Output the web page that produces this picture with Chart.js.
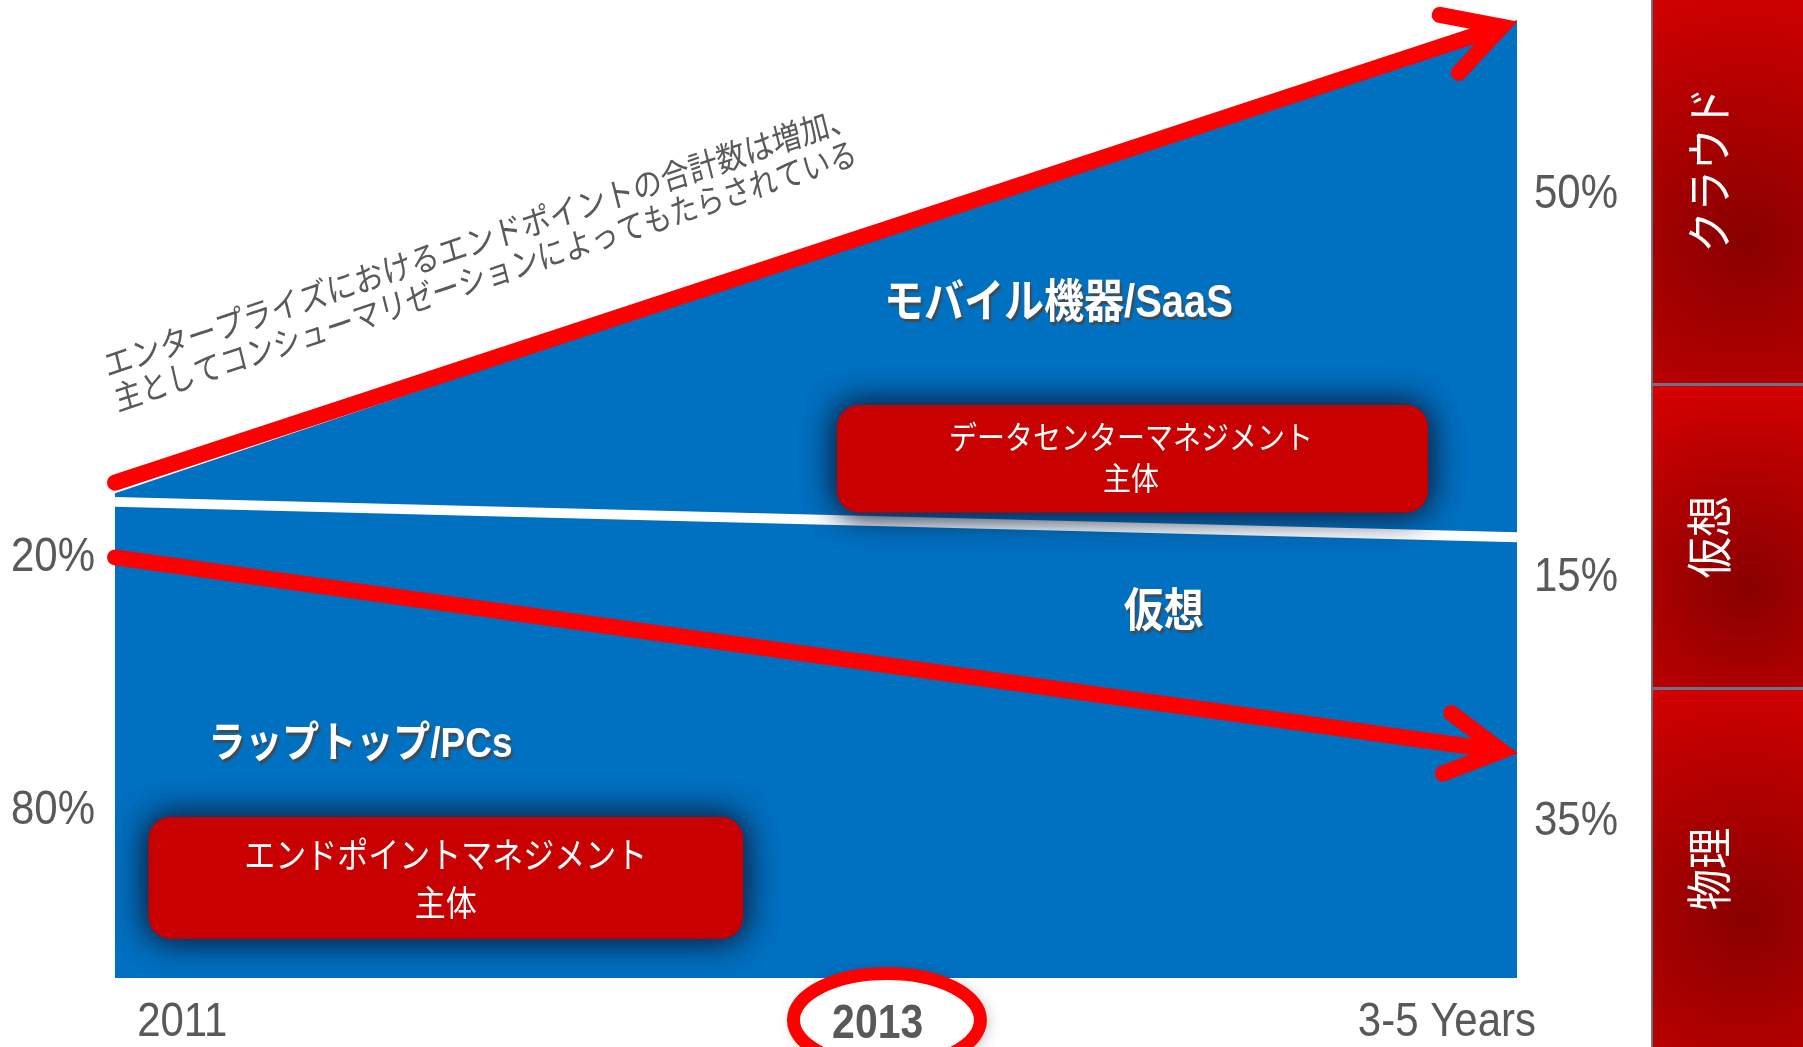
<!DOCTYPE html>
<html><head><meta charset="utf-8">
<script src="https://cdn.jsdelivr.net/npm/chart.js@4"></script>
<style>html,body{margin:0;padding:0;background:#fff;overflow:hidden}#wrap{position:relative;width:1803px;height:1047px}</style>
</head><body><div id="wrap"><canvas id="c"></canvas></div>
<script>
// ---- data (conceptual index, 0 = baseline, 100 = top) ----
const periods = ['2011', '2013', '3-5 Years'];
const xSpan = [0, 1];                 // 2011 -> 3-5 Years
const trendX = [0, 0.989];
const totalEndpoints = [50.6, 100];   // top of the blue area
const cloudBoundary = [49.7, 46.0];   // white divider (cloud above)
const growthTrend = [51.7, 99.3];     // upper red arrow
const physicalTrend = [43.9, 23.7];   // lower red arrow
const startShares = ['20%', '80%'];
const endShares = ['50%', '15%', '35%'];
const segments = ['クラウド', '仮想', '物理'];
const regionLabels = ['モバイル機器/SaaS', '仮想', 'ラップトップ/PCs'];
const focusLabels = [['データセンターマネジメント', '主体'], ['エンドポイントマネジメント', '主体']];
const noteLines = ['エンタープライズにおけるエンドポイントの合計数は増加、', '主としてコンシューマリゼーションによってもたらされている'];

const FONT = '"Liberation Sans", "Noto Sans CJK JP", sans-serif';
const GRAY = '#595959';
const SY = 1.15; // vertical stretch of the original slide

function text(ctx, s, x, y, o) {
  ctx.save();
  ctx.translate(x, y);
  if (o.vert) { ctx.rotate(-Math.PI / 2); ctx.scale(o.sx || 0.9, 1); }
  else {
    ctx.scale(o.sx || 1, SY);
    if (o.rot) ctx.rotate(o.rot);
    if (o.bx) ctx.scale(o.bx, 1);
  }
  ctx.font = (o.weight || 'normal') + ' ' + o.size + 'px ' + FONT;
  ctx.fillStyle = o.color || GRAY;
  ctx.textAlign = o.align || 'center';
  ctx.textBaseline = o.base || 'middle';
  if (o.shadow) {
    ctx.shadowColor = 'rgba(70,70,70,0.85)';
    ctx.shadowOffsetX = 2; ctx.shadowOffsetY = 3; ctx.shadowBlur = 1;
  }
  ctx.fillText(s, 0, 0);
  ctx.restore();
}

function head(ctx, p0, p1, len, ang, w, color) {
  const a = Math.atan2(p1.y - p0.y, p1.x - p0.x);
  ctx.save();
  ctx.beginPath();
  ctx.moveTo(p1.x - len * Math.cos(a - ang), p1.y - len * Math.sin(a - ang));
  ctx.lineTo(p1.x, p1.y);
  ctx.lineTo(p1.x - len * Math.cos(a + ang), p1.y - len * Math.sin(a + ang));
  ctx.strokeStyle = color; ctx.lineWidth = w; ctx.lineCap = 'round'; ctx.lineJoin = 'miter'; ctx.miterLimit = 10;
  ctx.stroke();
  ctx.restore();
}

function box(ctx, x0, y0, x1, y1, r) {
  ctx.save();
  ctx.shadowColor = 'rgba(15,35,70,0.9)';
  ctx.shadowBlur = 32;
  ctx.fillStyle = '#C80000';
  for (let k = 0; k < 2; k++) {
    ctx.beginPath(); ctx.roundRect(x0, y0, x1 - x0, y1 - y0, r); ctx.fill();
  }
  ctx.restore();
}

const decor = {
  id: 'decor',
  afterDatasetsDraw(chart) {
    const { ctx, scales: { x: X, y: Y } } = chart;
    const px = f => X.getPixelForValue(f), py = v => Y.getPixelForValue(v);
    // arrowheads
    [2, 3].forEach(i => {
      const pts = chart.getDatasetMeta(i).data;
      head(ctx, pts[0], pts[pts.length - 1], 63, 29 * Math.PI / 180, 16, '#FF0000');
    });
    // focus boxes
    box(ctx, px(0.515), py(59.8), px(0.9365), py(48.6), 22);
    text(ctx, focusLabels[0][0], px(0.7247), py(56.1), { size: 28, color: '#fff' });
    text(ctx, focusLabels[0][1], px(0.7247), py(51.9), { size: 28, color: '#fff' });
    box(ctx, px(0.024), py(16.8), px(0.448), py(4.1), 22);
    text(ctx, focusLabels[1][0], px(0.236), py(12.5), { size: 31, color: '#fff' });
    text(ctx, focusLabels[1][1], px(0.236), py(7.5), { size: 31, color: '#fff' });
    // region labels
    text(ctx, regionLabels[0], px(0.673), py(70.3), { size: 40, weight: 'bold', color: '#fff', shadow: true });
    text(ctx, regionLabels[1], px(0.748), py(38.1), { size: 40, weight: 'bold', color: '#fff', shadow: true });
    text(ctx, regionLabels[2], px(0.175), py(24.3), { size: 37, weight: 'bold', color: '#fff', shadow: true });
    // note along the growth arrow
    const rot = -16.2 * Math.PI / 180;
    text(ctx, noteLines[0], px(0.261), py(76.7), { size: 29, rot });
    text(ctx, noteLines[1], px(0.2646), py(73.0), { size: 29, rot, bx: 0.95 });
  },
  afterDraw(chart) {
    const { ctx, chartArea: a, scales: { x: X, y: Y } } = chart;
    const px = f => X.getPixelForValue(f), py = v => Y.getPixelForValue(v);
    // share labels
    [43.9, 17.5].forEach((v, i) => text(ctx, startShares[i], a.left - 62, py(v), { size: 42 }));
    [81.8, 41.8, 16.3].forEach((v, i) => text(ctx, endShares[i], a.right + 59, py(v), { size: 42 }));
    // period labels
    const base = a.bottom + 58;
    text(ctx, periods[0], px(0.048), base, { size: 42, base: 'alphabetic' });
    text(ctx, periods[2], px(0.95), base, { size: 42, base: 'alphabetic' });
    // highlight ellipse for 2013
    ctx.save();
    ctx.beginPath();
    ctx.ellipse(px(0.5506), a.bottom + 42, 93.5, 46.5, 0, 0, Math.PI * 2);
    ctx.shadowColor = 'rgba(0,0,0,0.5)'; ctx.shadowBlur = 16; ctx.shadowOffsetX = 3; ctx.shadowOffsetY = 2;
    ctx.fillStyle = '#fff'; ctx.fill();
    ctx.shadowColor = 'rgba(0,0,0,0)';
    ctx.strokeStyle = '#FF0000'; ctx.lineWidth = 13; ctx.stroke();
    ctx.restore();
    text(ctx, periods[1], px(0.544), base + 2, { size: 41, weight: 'bold', base: 'alphabetic' });
    // right-hand segment bar
    const bx = a.right + 136, bw = chart.width - bx, H = chart.height;
    ctx.save();
    ctx.fillStyle = '#6f7088';
    ctx.fillRect(bx - 2, 0, bw + 2, H);
    ctx.restore();
    const segs = [[0, 383], [386, 687], [690, H]];
    const tY = [170, 537, 869];
    segs.forEach(([y0, y1], i) => {
      ctx.save();
      const cx = bx + bw * 0.62, cy = (y0 + y1) / 2 + 50;
      const g = ctx.createRadialGradient(cx, cy, 5, cx, cy, (y1 - y0) * 0.7);
      g.addColorStop(0, '#8A0000');
      g.addColorStop(1, '#D40000');
      ctx.fillStyle = g;
      ctx.fillRect(bx, y0, bw, y1 - y0);
      ctx.restore();
      text(ctx, segments[i], bx + 60, tY[i], { size: 46, color: '#fff', vert: true, sx: 0.9 });
    });
  }
};

const ds = (vals, xs, extra) => Object.assign({
  data: vals.map((v, i) => ({ x: xs[i], y: v })), pointRadius: 0, tension: 0
}, extra);

new Chart(document.getElementById('c'), {
  type: 'line',
  data: {
    datasets: [
      ds(totalEndpoints, xSpan, { label: 'エンドポイント合計', order: 10, fill: 'origin', backgroundColor: '#0070C0', borderColor: 'rgba(0,0,0,0)', borderWidth: 0 }),
      ds(cloudBoundary, xSpan, { label: 'クラウド境界', order: 3, fill: false, borderColor: '#FFFFFF', borderWidth: 10, clip: false }),
      ds(growthTrend, trendX, { label: '増加', order: 2, fill: false, borderColor: '#FF0000', borderWidth: 16, borderCapStyle: 'round', clip: false }),
      ds(physicalTrend, trendX, { label: '物理', order: 1, fill: false, borderColor: '#FF0000', borderWidth: 16, borderCapStyle: 'round', clip: false })
    ]
  },
  options: {
    responsive: true, maintainAspectRatio: false, animation: false, events: [],
    layout: { padding: { left: 115, right: 286, top: 20, bottom: 69 } },
    scales: {
      x: { type: 'linear', min: 0, max: 1, display: false },
      y: { min: 0, max: 100, display: false }
    },
    plugins: { legend: { display: false }, tooltip: { enabled: false } }
  },
  plugins: [decor]
});
</script>
</body></html>
